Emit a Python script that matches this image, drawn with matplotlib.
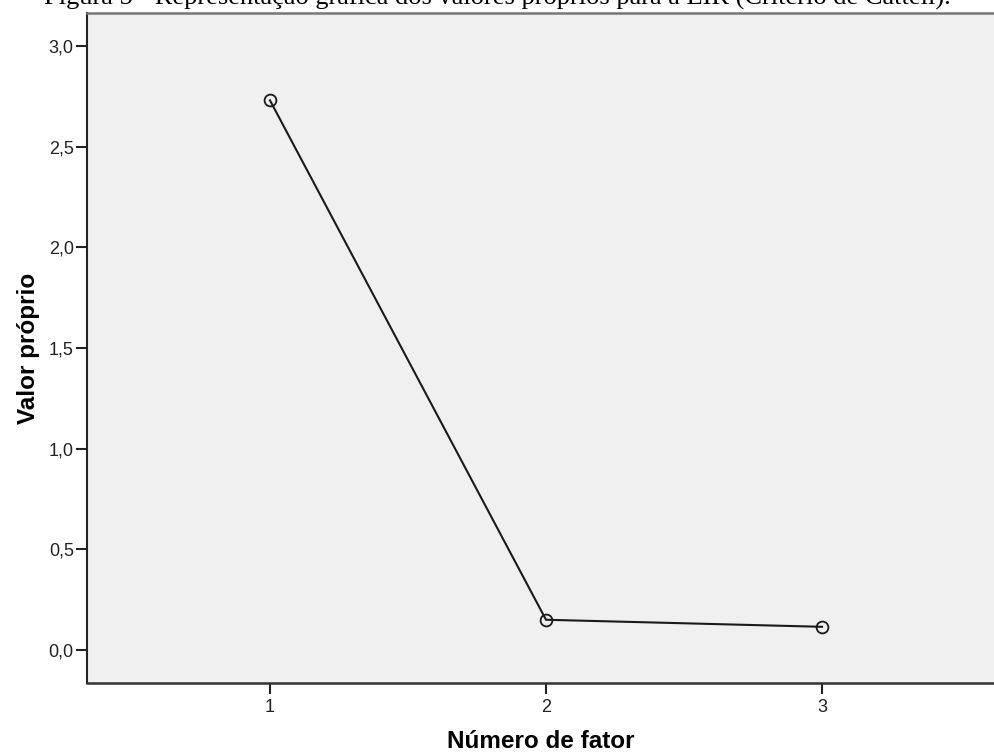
#!/usr/bin/env python3

from matplotlib import pyplot as plt
from matplotlib.ticker import FuncFormatter

# eigenvalues for each extracted factor
factors = [1, 2, 3]
eigenvalues = [2.73, 0.15, 0.115]

title = 'Figura 5 - Representação gráfica dos valores próprios para a EIR (Critério de Cattell).'
xlabel = 'Número de fator'
ylabel = 'Valor próprio'
yticks = [0.0, 0.5, 1.0, 1.5, 2.0, 2.5, 3.0]

plt.rcParams['font.family'] = ['Liberation Sans', 'DejaVu Sans']

fig = plt.figure(figsize=(9.94, 7.55), dpi=100)
ax = fig.add_axes([0.0875, 0.0954, 0.9125, 0.8874])
ax.set_facecolor('#f0f0f0')

# scree plot: line with hollow circle markers
ax.plot(factors, eigenvalues, color='#1a1a1a', linewidth=1.5,
        marker='o', markersize=8.5, markerfacecolor='none',
        markeredgecolor='#1a1a1a', markeredgewidth=1.3)

ax.set_xlim(0.337, 3.623)
ax.set_ylim(-0.164, 3.164)
ax.set_xticks(factors)
ax.set_yticks(yticks)
ax.yaxis.set_major_formatter(FuncFormatter(lambda v, p: '{:.1f}'.format(v).replace('.', ',')))
ax.tick_params(direction='out', length=8, width=1.5, labelsize=13, colors='#222222')
ax.tick_params(axis='y', pad=1.5)
ax.tick_params(axis='x', pad=3.5)

ax.spines['right'].set_visible(False)
ax.spines['left'].set_color('#222222')
ax.spines['left'].set_linewidth(1.5)
ax.spines['bottom'].set_color('#333333')
ax.spines['bottom'].set_linewidth(1.8)
ax.spines['top'].set_color('#777777')
ax.spines['top'].set_linewidth(1.8)

ax.set_xlabel(xlabel, fontsize=17.5, fontweight='bold', labelpad=10)
ax.set_ylabel(ylabel, fontsize=17.5, fontweight='bold', labelpad=6)

fig.text(0.5, 0.9934, title, family=['Liberation Serif', 'DejaVu Serif'],
         fontsize=19, ha='center', va='baseline')

fig.savefig('out.png', dpi=100)
